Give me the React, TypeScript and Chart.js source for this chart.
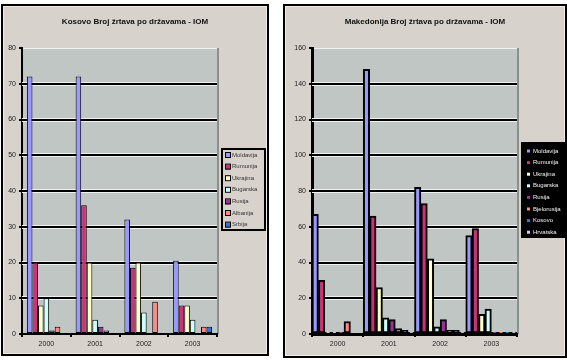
import React, { useEffect, useRef } from "react";
import { Chart, registerables } from "chart.js";

Chart.register(...registerables);

const years = ["2000", "2001", "2002", "2003"];

// Kosovo chart
const kosovoTitle = "Kosovo Broj žrtava po državama - IOM";
const kosovoCountries = ["Moldavija", "Rumunija", "Ukrajina", "Bugarska", "Rusija", "Albanija", "Srbija"];
const kosovoMoldavija = [72, 72, 32, 20.5];
const kosovoRumunija = [20, 36, 18.5, 8];
const kosovoUkrajina = [8, 20, 20, 8];
const kosovoBugarska = [10, 4, 6, 4];
const kosovoRusija = [1, 2, 0, 0];
const kosovoAlbanija = [2, 1, 9, 2];
const kosovoSrbija = [0, 0, 0, 2];
const kosovoYMax = 80;
const kosovoYStep = 10;

// Makedonija chart
const makTitle = "Makedonija Broj žrtava po državama - IOM";
const makCountries = ["Moldavija", "Rumunija", "Ukrajina", "Bugarska", "Rusija", "Bjelorusija", "Kosovo", "Hrvatska"];
const makMoldavija = [67, 148, 82, 55];
const makRumunija = [30, 66, 73, 59];
const makUkrajina = [1, 26, 42, 11];
const makBugarska = [1, 9, 4, 14];
const makRusija = [1, 8, 8, 1];
const makBjelorusija = [7, 3, 2, 1];
const makKosovo = [0, 2, 2, 1];
const makHrvatska = [0, 1, 1, 1];
const makYMax = 160;
const makYStep = 20;

const kosovoColors = ["#9999ff", "#cc3377", "#ffffcc", "#ccffff", "#993399", "#ff8888", "#3377cc"];
const makColors = ["#9999ff", "#cc3377", "#ffffcc", "#ccffff", "#993399", "#ff8888", "#3377cc", "#ccccff"];

const FONT = "'Liberation Sans', Arial, sans-serif";
const PANEL_BG = "#d8d2cc";
const PLOT_BG = "#c0c6c4";

type LegendCfg = { x: number; y: number; w: number; h: number; first: number; row: number; dark: boolean; font: number };

type PanelProps = {
  left: number;
  top: number;
  width: number;
  height: number;
  title: string;
  titleY: number;
  labels: string[];
  values: number[][];
  colors: string[];
  yMax: number;
  yStep: number;
  area: { left: number; right: number; top: number; bottom: number };
  barBorder: number;
  axisWidth: number;
  catPct: number;
  legend: LegendCfg;
};

function Panel(p: PanelProps) {
  const ref = useRef<HTMLCanvasElement | null>(null);
  useEffect(() => {
    const canvas = ref.current;
    if (!canvas) return;
    const deco = {
      id: "deco",
      beforeDraw(chart: any) {
        const ctx = chart.ctx;
        const a = chart.chartArea;
        ctx.save();
        ctx.fillStyle = PANEL_BG;
        ctx.fillRect(0, 0, chart.width, chart.height);
        ctx.strokeStyle = "#000";
        ctx.lineWidth = 2;
        ctx.strokeRect(1, 1, chart.width - 2, chart.height - 2);
        ctx.strokeStyle = "#f0ece8";
        ctx.lineWidth = 1;
        ctx.strokeRect(2.5, 2.5, chart.width - 5, chart.height - 5);
        ctx.fillStyle = PLOT_BG;
        ctx.fillRect(a.left, a.top, a.right - a.left, a.bottom - a.top);
        ctx.strokeStyle = "#eef2f2";
        ctx.beginPath();
        ctx.moveTo(a.left, a.top + 0.5);
        ctx.lineTo(a.right, a.top + 0.5);
        ctx.stroke();
        ctx.strokeStyle = "#8a9090";
        ctx.lineWidth = 2;
        ctx.beginPath();
        ctx.moveTo(a.right + 1, a.top);
        ctx.lineTo(a.right + 1, a.bottom);
        ctx.stroke();
        ctx.restore();
      },
      beforeDatasetsDraw(chart: any) {
        const ctx = chart.ctx;
        const a = chart.chartArea;
        const y = chart.scales.y;
        ctx.save();
        ctx.strokeStyle = "#eef2f2";
        ctx.lineWidth = 1;
        y.ticks.forEach((t: any) => {
          if (t.value === 0 || t.value === p.yMax) return;
          const py = Math.round(y.getPixelForValue(t.value));
          ctx.beginPath();
          ctx.moveTo(a.left, py - 1.5);
          ctx.lineTo(a.right, py - 1.5);
          ctx.moveTo(a.left, py + 1.5);
          ctx.lineTo(a.right, py + 1.5);
          ctx.stroke();
        });
        ctx.restore();
      },
      afterDraw(chart: any) {
        const ctx = chart.ctx;
        ctx.save();
        ctx.font = `bold 8px ${FONT}`;
        ctx.fillStyle = "#111";
        ctx.textAlign = "center";
        ctx.textBaseline = "middle";
        ctx.fillText(p.title, chart.width / 2, p.titleY);
        const L = p.legend;
        ctx.fillStyle = L.dark ? "#000" : PANEL_BG;
        ctx.fillRect(L.x, L.y, L.w, L.h);
        ctx.strokeStyle = "#000";
        ctx.lineWidth = 2;
        ctx.strokeRect(L.x, L.y, L.w, L.h);
        ctx.font = `${L.font}px ${FONT}`;
        ctx.textAlign = "left";
        chart.data.datasets.forEach((ds: any, i: number) => {
          const cy = L.first + i * L.row;
          if (L.dark) {
            ctx.fillStyle = ds.backgroundColor;
            ctx.fillRect(L.x + 5, cy - 1.5, 3, 3);
            ctx.fillStyle = "#f4f4f4";
            ctx.fillText(ds.label, L.x + 11, cy);
          } else {
            ctx.fillStyle = ds.backgroundColor;
            ctx.fillRect(L.x + 3, cy - 2, 5, 5);
            ctx.strokeStyle = "#000";
            ctx.lineWidth = 1;
            ctx.strokeRect(L.x + 3.5, cy - 2.5, 5, 5);
            ctx.fillStyle = "#333";
            ctx.fillText(ds.label, L.x + 10, cy);
          }
        });
        ctx.restore();
      },
    };
    const chart = new Chart(canvas, {
      type: "bar",
      data: {
        labels: years,
        datasets: p.labels.map((label, i) => ({
          label,
          data: p.values[i],
          backgroundColor: p.colors[i],
          borderColor: "#000",
          borderWidth: p.barBorder,
          borderSkipped: false,
          categoryPercentage: p.catPct,
          barPercentage: 1,
        })),
      },
      options: {
        animation: false,
        responsive: false,
        maintainAspectRatio: false,
        devicePixelRatio: 1,
        layout: { padding: { left: 0, top: p.area.top, right: p.width - p.area.right, bottom: 0 } },
        plugins: { legend: { display: false }, title: { display: false }, tooltip: { enabled: false } },
        scales: {
          x: {
            grid: { display: true, offset: true, drawOnChartArea: false, drawTicks: true, tickLength: 3, tickColor: "#000", lineWidth: 2, color: "#000" },
            border: { display: true, color: "#000", width: p.axisWidth },
            ticks: { font: { family: FONT, size: 7 }, color: "#222", padding: 3 },
            afterFit: (s: any) => {
              s.height = p.height - p.area.bottom;
            },
          },
          y: {
            min: 0,
            max: p.yMax,
            ticks: { stepSize: p.yStep, font: { family: FONT, size: 7 }, color: "#222", padding: 3 },
            grid: {
              color: (c: any) => (c.tick && c.tick.value === p.yMax ? "rgba(0,0,0,0)" : "#000"),
              lineWidth: 2,
              tickLength: 3,
              tickColor: "#000",
            },
            border: { display: true, color: "#000", width: p.axisWidth },
            afterFit: (s: any) => {
              s.width = p.area.left;
            },
          },
        },
      },
      plugins: [deco],
    } as any);
    return () => chart.destroy();
  }, []);
  return (
    <div style={{ position: "absolute", left: p.left, top: p.top, width: p.width, height: p.height }}>
      <canvas ref={ref} width={p.width} height={p.height} style={{ display: "block", width: p.width, height: p.height }} />
    </div>
  );
}

export default function App() {
  return (
    <div style={{ position: "fixed", left: 0, top: 0, width: 567, height: 360, background: "#fff" }}>
      <Panel
        left={1}
        top={4}
        width={268}
        height={352}
        title={kosovoTitle}
        titleY={18}
        labels={kosovoCountries}
        values={[kosovoMoldavija, kosovoRumunija, kosovoUkrajina, kosovoBugarska, kosovoRusija, kosovoAlbanija, kosovoSrbija]}
        colors={kosovoColors}
        yMax={kosovoYMax}
        yStep={kosovoYStep}
        area={{ left: 21, right: 216, top: 44, bottom: 330 }}
        barBorder={1}
        axisWidth={2}
        catPct={0.8}
        legend={{ x: 221, y: 145, w: 43, h: 81, first: 151, row: 11.6, dark: false, font: 6 }}
      />
      <Panel
        left={283}
        top={4}
        width={284}
        height={354}
        title={makTitle}
        titleY={18}
        labels={makCountries}
        values={[makMoldavija, makRumunija, makUkrajina, makBugarska, makRusija, makBjelorusija, makKosovo, makHrvatska]}
        colors={makColors}
        yMax={makYMax}
        yStep={makYStep}
        area={{ left: 29, right: 234, top: 44, bottom: 330 }}
        barBorder={2}
        axisWidth={3}
        catPct={1}
        legend={{ x: 239, y: 139, w: 44, h: 94, first: 147, row: 11.6, dark: true, font: 6 }}
      />
    </div>
  );
}
